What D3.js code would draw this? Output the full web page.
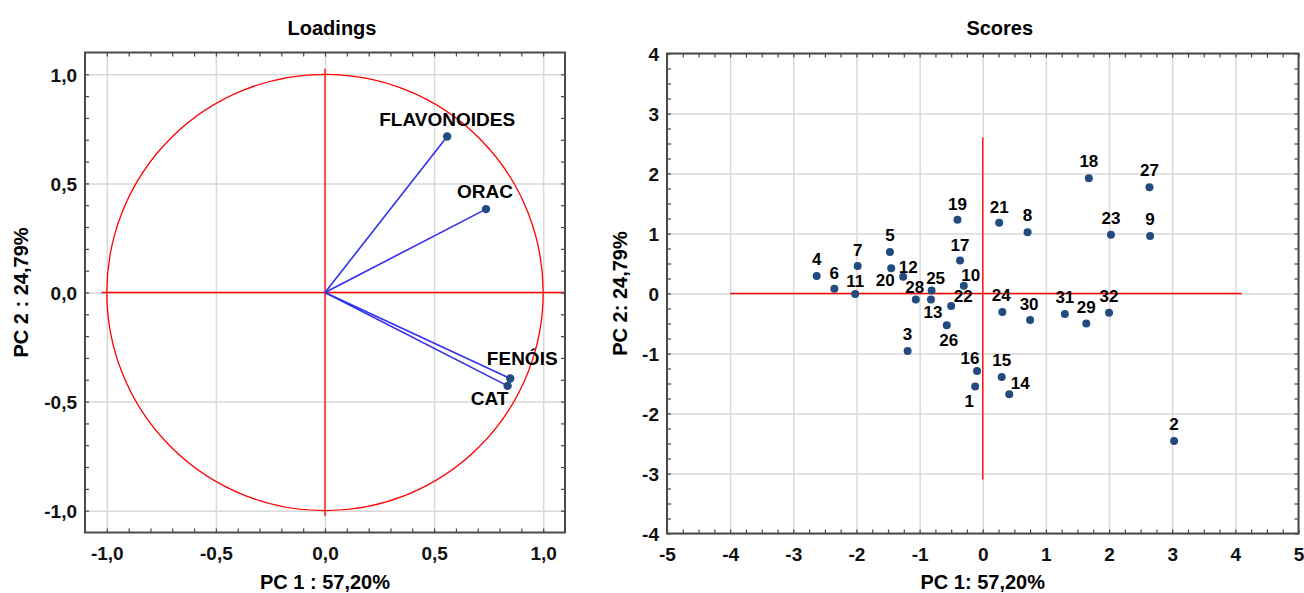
<!DOCTYPE html>
<html>
<head>
<meta charset="utf-8">
<script src="https://cdn.jsdelivr.net/npm/d3@7"></script>
<style>
  html, body { margin: 0; padding: 0; background: #fff; }
  svg { display: block; font-family: "Liberation Sans", Arial, sans-serif; font-weight: bold; }
</style>
</head>
<body>
<div id="chart"></div>
<script>
// Loadings (variáveis)
const loadVars = ['FLAVONOIDES', 'ORAC', 'FENÓIS', 'CAT']
const loadPc1 = [0.56, 0.738, 0.849, 0.837]
const loadPc2 = [0.715, 0.382, -0.394, -0.428]
const loadTicks = [-1, -0.5, 0, 0.5, 1]
const loadAxisX = [-1.025, 1.1]
const loadAxisY = [-1.025, 1.025]

// Scores (amostras)
const scoreIds = ['1', '2', '3', '4', '5', '6', '7', '8', '9', '10', '11', '12', '13', '14', '15', '16',
  '17', '18', '19', '20', '21', '22', '23', '24', '25', '26', '27', '28', '29', '30', '31', '32']
const scorePc1 = [-0.12, 3.03, -1.19, -2.63, -1.47, -2.35, -1.98, 0.71, 2.65, -0.30, -2.02, -1.26, -0.82, 0.42, 0.30, -0.09,
  -0.36, 1.68, -0.40, -1.45, 0.26, -0.50, 2.03, 0.31, -0.81, -0.57, 2.64, -1.06, 1.64, 0.75, 1.30, 2.00]
const scorePc2 = [-1.55, -2.46, -0.96, 0.29, 0.69, 0.08, 0.46, 1.02, 0.96, 0.13, -0.01, 0.28, -0.10, -1.68, -1.39, -1.29,
  0.55, 1.92, 1.23, 0.42, 1.18, -0.21, 0.98, -0.31, 0.05, -0.53, 1.77, -0.10, -0.50, -0.44, -0.34, -0.32]
const scoreXTicks = [-5, -4, -3, -2, -1, 0, 1, 2, 3, 4, 5]
const scoreYTicks = [-4, -3, -2, -1, 0, 1, 2, 3, 4]
const scoreAxisX = [-4, 4.1]
const scoreAxisY = [-3.1, 2.6]

// posição dos rótulos (px, relativo ao ponto)
const loadLabelPos = { 'FLAVONOIDES': [0, -11], 'ORAC': [-1, -11], 'FENÓIS': [12, -13], 'CAT': [-18, 19] }
const scoreLabelPos = {
  '6': [0, -10], '7': [0, -10], '11': [0, -7], '20': [-6, 18], '12': [5, -4], '28': [-1, -7],
  '25': [4, -7], '10': [7, -5], '22': [12, -4], '13': [2, 18], '26': [2, 21], '19': [0, -10],
  '17': [0, -10], '21': [0, -10], '24': [-1, -11], '30': [-1, -10], '16': [-7, -7], '14': [11, -5], '1': [-6, 20]
}

const width = 1304
const height = 593
const dotColor = '#234b7f'
const red = '#ff0000'

const svg = d3.select('#chart').append('svg').attr('width', width).attr('height', height)

const comma = f => v => d3.format(f)(v).replace('.', ',').replace('−', '-')

function grid(x, y, majorX, majorY) {
  const [yb, yt] = y.range()
  const [xl, xr] = x.range()
  svg.append('g').attr('transform', `translate(0,${yb})`)
    .call(d3.axisBottom(x).tickValues(majorX).tickSize(-(yb - yt)).tickFormat(''))
    .call(a => { a.select('.domain').remove(); a.selectAll('line').attr('stroke', '#d9d9d9').attr('stroke-width', 1.5) })
  svg.append('g').attr('transform', `translate(${xl},0)`)
    .call(d3.axisLeft(y).tickValues(majorY).tickSize(-(xr - xl)).tickFormat(''))
    .call(a => { a.select('.domain').remove(); a.selectAll('line').attr('stroke', '#d9d9d9').attr('stroke-width', 1.5) })
}

function crossLines(x, y, xs, ys) {
  const g = svg.append('g').attr('stroke', red).attr('stroke-width', 1.3).attr('fill', 'none')
  g.append('line').attr('x1', x(xs[0])).attr('x2', x(xs[1])).attr('y1', y(0)).attr('y2', y(0))
  g.append('line').attr('x1', x(0)).attr('x2', x(0)).attr('y1', y(ys[0])).attr('y2', y(ys[1]))
}

function frame(x, y, minorX, minorY, majorX, majorY, fmt) {
  const [yb, yt] = y.range()
  const [xl, xr] = x.range()
  const style = a => { a.select('.domain').remove(); a.selectAll('line').attr('stroke', '#444').attr('stroke-width', 1.2) }
  svg.append('g').attr('transform', `translate(0,${yb})`).call(d3.axisBottom(x).tickValues(minorX).tickSize(-4).tickFormat('')).call(style)
  svg.append('g').attr('transform', `translate(0,${yt})`).call(d3.axisTop(x).tickValues(minorX).tickSize(-4).tickFormat('')).call(style)
  svg.append('g').attr('transform', `translate(${xl},0)`).call(d3.axisLeft(y).tickValues(minorY).tickSize(-4).tickFormat('')).call(style)
  svg.append('g').attr('transform', `translate(${xr},0)`).call(d3.axisRight(y).tickValues(minorY).tickSize(-4).tickFormat('')).call(style)

  svg.append('rect').attr('x', xl).attr('y', yt).attr('width', xr - xl).attr('height', yb - yt)
    .attr('fill', 'none').attr('stroke', '#4a4a4a').attr('stroke-width', 2)

  svg.append('g').attr('transform', `translate(0,${yb})`)
    .call(d3.axisBottom(x).tickValues(majorX).tickSize(0).tickFormat(fmt))
    .call(a => {
      a.select('.domain').remove()
      a.attr('font-size', 19).attr('font-family', null)
      a.selectAll('text').attr('y', 27).attr('dy', null).attr('fill', '#111')
    })
  svg.append('g').attr('transform', `translate(${xl},0)`)
    .call(d3.axisLeft(y).tickValues(majorY).tickSize(0).tickPadding(8).tickFormat(fmt))
    .call(a => {
      a.select('.domain').remove()
      a.attr('font-size', 19).attr('font-family', null)
      a.selectAll('text').attr('dy', '0.36em').attr('fill', '#111')
    })
}

function titles(x, y, title, titleDx, xLabel, yLabel, yLabelX) {
  const [yb, yt] = y.range()
  const [xl, xr] = x.range()
  const cx = (xl + xr) / 2
  const cy = (yb + yt) / 2
  svg.append('text').attr('x', cx + titleDx).attr('y', 35).attr('text-anchor', 'middle').attr('font-size', 20).text(title)
  svg.append('text').attr('x', cx).attr('y', 589).attr('text-anchor', 'middle').attr('font-size', 20).text(xLabel)
  svg.append('text').attr('transform', `translate(${yLabelX},${cy}) rotate(-90)`).attr('text-anchor', 'middle')
    .attr('font-size', 20).text(yLabel)
}

// ---------- Loadings ----------
const lx = d3.scaleLinear().domain([-1.1, 1.1]).range([85, 565])
const ly = d3.scaleLinear().domain([-1.1, 1.1]).range([532.5, 52.5])

grid(lx, ly, loadTicks, loadTicks)
crossLines(lx, ly, loadAxisX, loadAxisY)

svg.append('ellipse').attr('cx', lx(0)).attr('cy', ly(0)).attr('rx', lx(1) - lx(0)).attr('ry', ly(0) - ly(1))
  .attr('fill', 'none').attr('stroke', red).attr('stroke-width', 1.3)

const loadData = loadVars.map((v, i) => ({ name: v, pc1: loadPc1[i], pc2: loadPc2[i] }))

svg.selectAll('.vec').data(loadData).enter().append('line').attr('class', 'vec')
  .attr('x1', lx(0)).attr('y1', ly(0)).attr('x2', d => lx(d.pc1)).attr('y2', d => ly(d.pc2))
  .attr('stroke', '#3030ee').attr('stroke-width', 1.6)
svg.selectAll('.ldot').data(loadData).enter().append('circle').attr('class', 'ldot')
  .attr('cx', d => lx(d.pc1)).attr('cy', d => ly(d.pc2)).attr('r', 4.2).attr('fill', dotColor)
svg.selectAll('.llab').data(loadData).enter().append('text').attr('class', 'llab')
  .attr('x', d => lx(d.pc1) + loadLabelPos[d.name][0]).attr('y', d => ly(d.pc2) + loadLabelPos[d.name][1])
  .attr('text-anchor', 'middle').attr('font-size', 19).text(d => d.name)

frame(lx, ly, d3.range(-10, 11).map(v => v / 10), d3.range(-10, 11).map(v => v / 10), loadTicks, loadTicks, comma('.1f'))
titles(lx, ly, 'Loadings', 7, 'PC 1 : 57,20%', 'PC 2 : 24,79%', 28)

// ---------- Scores ----------
const sx = d3.scaleLinear().domain([-5, 5]).range([667, 1298.5])
const sy = d3.scaleLinear().domain([-4, 4]).range([533.5, 53.5])

grid(sx, sy, scoreXTicks, scoreYTicks)
crossLines(sx, sy, scoreAxisX, scoreAxisY)

const scoreData = scoreIds.map((id, i) => ({ id: id, pc1: scorePc1[i], pc2: scorePc2[i] }))

svg.selectAll('.sdot').data(scoreData).enter().append('circle').attr('class', 'sdot')
  .attr('cx', d => sx(d.pc1)).attr('cy', d => sy(d.pc2)).attr('r', 4).attr('fill', dotColor)
svg.selectAll('.slab').data(scoreData).enter().append('text').attr('class', 'slab')
  .attr('x', d => sx(d.pc1) + (scoreLabelPos[d.id] || [0, -11])[0])
  .attr('y', d => sy(d.pc2) + (scoreLabelPos[d.id] || [0, -11])[1])
  .attr('text-anchor', 'middle').attr('font-size', 17).text(d => d.id)

frame(sx, sy, d3.range(-20, 21).map(v => v / 4), d3.range(-16, 17).map(v => v / 4), scoreXTicks, scoreYTicks, comma('d'))
titles(sx, sy, 'Scores', 17, 'PC 1: 57,20%', 'PC 2: 24,79%', 627)
</script>
</body>
</html>
